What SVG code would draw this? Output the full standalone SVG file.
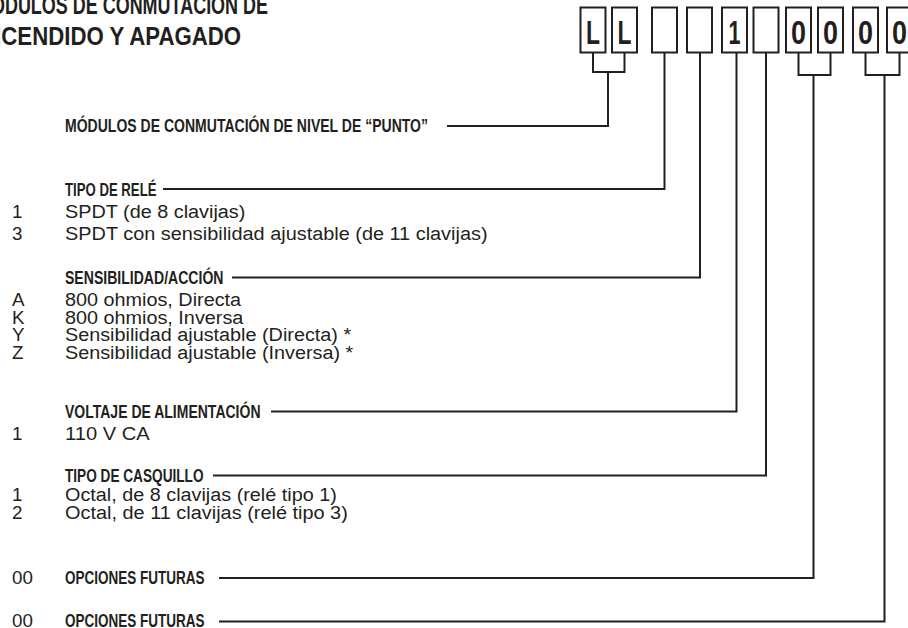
<svg xmlns="http://www.w3.org/2000/svg" width="908" height="628" viewBox="0 0 908 628">
<style>
  .bg { fill: #ffffff; }
  .title { font-family: "Liberation Sans", Arial, sans-serif; font-weight: bold; font-size: 26.5px; fill: #231f20; }
  .lbl { font-family: "Liberation Sans", Arial, sans-serif; font-weight: bold; font-size: 18.5px; fill: #231f20; }
  .txt { font-family: "Liberation Sans", Arial, sans-serif; font-size: 18.8px; fill: #231f20; }
  .box { fill: #ffffff; stroke: #231f20; stroke-width: 2; }
  .chr { font-family: "Liberation Sans", Arial, sans-serif; font-weight: bold; font-size: 33px; fill: #231f20; text-anchor: middle; }
  .ln { fill: none; stroke: #231f20; stroke-width: 2; stroke-linejoin: miter; stroke-linecap: square; }
</style>
<rect class="bg" x="0" y="0" width="908" height="628"/>

<g id="title">
  <text class="title" x="-24" y="14" textLength="292" lengthAdjust="spacingAndGlyphs">MÓDULOS DE CONMUTACIÓN DE</text>
  <text class="title" x="-29.5" y="45" textLength="270.5" lengthAdjust="spacingAndGlyphs">ENCENDIDO Y APAGADO</text>
</g>

<g id="code-boxes">
  <g id="box1"><rect class="box" x="580.5" y="7.5" width="25" height="45"/><text class="chr" x="593" y="44" textLength="14" lengthAdjust="spacingAndGlyphs">L</text></g>
  <g id="box2"><rect class="box" x="612" y="7.5" width="25" height="45"/><text class="chr" x="624.5" y="44" textLength="14" lengthAdjust="spacingAndGlyphs">L</text></g>
  <g id="box3"><rect class="box" x="652" y="7.5" width="25" height="45"/></g>
  <g id="box4"><rect class="box" x="687" y="7.5" width="25" height="45"/></g>
  <g id="box5"><rect class="box" x="722" y="7.5" width="25" height="45"/><text class="chr" x="734.5" y="44" textLength="12" lengthAdjust="spacingAndGlyphs">1</text></g>
  <g id="box6"><rect class="box" x="753.5" y="7.5" width="25" height="45"/></g>
  <g id="box7"><rect class="box" x="786" y="7.5" width="25" height="45"/><text class="chr" x="798.5" y="44" textLength="15" lengthAdjust="spacingAndGlyphs">0</text></g>
  <g id="box8"><rect class="box" x="818" y="7.5" width="25" height="45"/><text class="chr" x="830.5" y="44" textLength="15" lengthAdjust="spacingAndGlyphs">0</text></g>
  <g id="box9"><rect class="box" x="853" y="7.5" width="25" height="45"/><text class="chr" x="865.5" y="44" textLength="15" lengthAdjust="spacingAndGlyphs">0</text></g>
  <g id="box10"><rect class="box" x="887" y="7.5" width="25" height="45"/><text class="chr" x="899.5" y="44" textLength="15" lengthAdjust="spacingAndGlyphs">0</text></g>
</g>

<g id="connectors">
  <path class="ln" d="M593 53 V72 H624.5 V53 M608 72 V126 H448"/>
  <path class="ln" d="M664.5 53 V189 H164"/>
  <path class="ln" d="M700 53 V277.5 H233"/>
  <path class="ln" d="M736.5 53 V411.5 H272"/>
  <path class="ln" d="M766 53 V475.5 H214"/>
  <path class="ln" d="M798.5 53 V75 H830.5 V53 M813.5 75 V578 H220"/>
  <path class="ln" d="M865.5 53 V75 H899.5 V53 M884.5 75 V621.5 H220"/>
</g>

<g id="node-punto">
  <text class="lbl" x="65" y="132" textLength="363" lengthAdjust="spacingAndGlyphs">MÓDULOS DE CONMUTACIÓN DE NIVEL DE “PUNTO”</text>
</g>

<g id="node-rele">
  <text class="lbl" x="65" y="195.5" textLength="91.5" lengthAdjust="spacingAndGlyphs">TIPO DE RELÉ</text>
  <text class="txt" x="12" y="218">1</text>
  <text class="txt" x="65" y="218" textLength="180.4" lengthAdjust="spacingAndGlyphs">SPDT (de 8 clavijas)</text>
  <text class="txt" x="12" y="240">3</text>
  <text class="txt" x="65" y="240" textLength="422.5" lengthAdjust="spacingAndGlyphs">SPDT con sensibilidad ajustable (de 11 clavijas)</text>
</g>

<g id="node-sensibilidad">
  <text class="lbl" x="65" y="284" textLength="158.5" lengthAdjust="spacingAndGlyphs">SENSIBILIDAD/ACCIÓN</text>
  <text class="txt" x="12" y="306">A</text>
  <text class="txt" x="65" y="306" textLength="176.1" lengthAdjust="spacingAndGlyphs">800 ohmios, Directa</text>
  <text class="txt" x="12" y="323.5">K</text>
  <text class="txt" x="65" y="323.5" textLength="178.3" lengthAdjust="spacingAndGlyphs">800 ohmios, Inversa</text>
  <text class="txt" x="12" y="341">Y</text>
  <text class="txt" x="65" y="341" textLength="286.1" lengthAdjust="spacingAndGlyphs">Sensibilidad ajustable (Directa) *</text>
  <text class="txt" x="12" y="358.5">Z</text>
  <text class="txt" x="65" y="358.5" textLength="288.3" lengthAdjust="spacingAndGlyphs">Sensibilidad ajustable (Inversa) *</text>
</g>

<g id="node-voltaje">
  <text class="lbl" x="65" y="418" textLength="195.5" lengthAdjust="spacingAndGlyphs">VOLTAJE DE ALIMENTACIÓN</text>
  <text class="txt" x="12" y="440">1</text>
  <text class="txt" x="65" y="440" textLength="84.7" lengthAdjust="spacingAndGlyphs">110 V CA</text>
</g>

<g id="node-casquillo">
  <text class="lbl" x="65" y="482" textLength="138.5" lengthAdjust="spacingAndGlyphs">TIPO DE CASQUILLO</text>
  <text class="txt" x="12" y="501">1</text>
  <text class="txt" x="65" y="501" textLength="271.8" lengthAdjust="spacingAndGlyphs">Octal, de 8 clavijas (relé tipo 1)</text>
  <text class="txt" x="12" y="518.5">2</text>
  <text class="txt" x="65" y="518.5" textLength="282.8" lengthAdjust="spacingAndGlyphs">Octal, de 11 clavijas (relé tipo 3)</text>
</g>

<g id="node-opciones1">
  <text class="txt" x="12" y="584">00</text>
  <text class="lbl" x="65" y="584" textLength="139.5" lengthAdjust="spacingAndGlyphs">OPCIONES FUTURAS</text>
</g>

<g id="node-opciones2">
  <text class="txt" x="12" y="627">00</text>
  <text class="lbl" x="65" y="627" textLength="139.5" lengthAdjust="spacingAndGlyphs">OPCIONES FUTURAS</text>
</g>
</svg>
